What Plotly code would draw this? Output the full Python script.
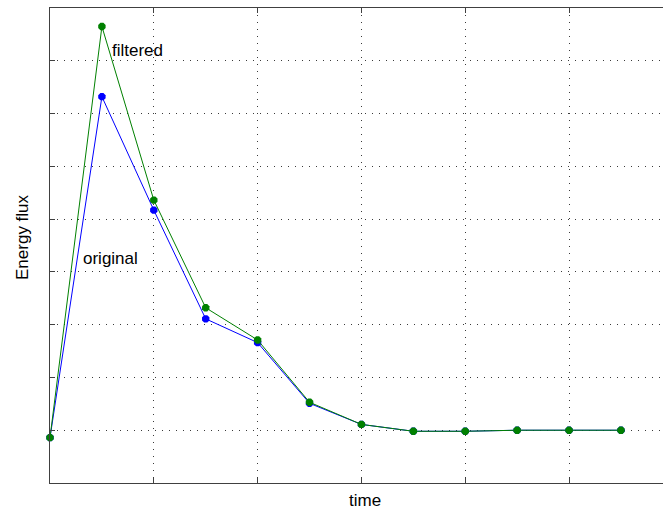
import plotly.graph_objects as go

time_idx = [0, 1, 2, 3, 4, 5, 6, 7, 8, 9, 10, 11]
original = [-0.14, 6.32, 4.17, 2.11, 1.66, 0.51, 0.11, -0.02, -0.02, 0.0, 0.0, 0.0]
filtered = [-0.14, 7.65, 4.36, 2.32, 1.71, 0.53, 0.11, -0.02, -0.02, 0.0, 0.0, 0.0]
x_ticks = [0, 2, 4, 6, 8, 10]
y_ticks = [-1, 0, 1, 2, 3, 4, 5, 6, 7, 8]

BLUE = "#0000ff"
GREEN = "#008000"
AX = "#404040"
GRID = "#3a3a3a"
FONT = "Liberation Sans, Arial, sans-serif"

fig = go.Figure()
fig.add_trace(go.Scatter(x=time_idx, y=original, mode="lines+markers",
                         line=dict(color=BLUE, width=1),
                         marker=dict(symbol="octagon", size=8, color=BLUE),
                         cliponaxis=False, showlegend=False))
fig.add_trace(go.Scatter(x=time_idx, y=filtered, mode="lines+markers",
                         line=dict(color=GREEN, width=1),
                         marker=dict(symbol="octagon", size=8, color=GREEN),
                         cliponaxis=False, showlegend=False))

fig.add_annotation(x=1.15, y=7.19, xref="x", yref="y", text="filtered",
                   showarrow=False, xanchor="left", yanchor="middle",
                   font=dict(family=FONT, size=17, color="#000"))
fig.add_annotation(x=0.60, y=3.26, xref="x", yref="y", text="original",
                   showarrow=False, xanchor="left", yanchor="middle",
                   font=dict(family=FONT, size=17, color="#000"))
fig.add_annotation(x=6.07, y=-0.036, xref="x", yref="paper", text="time",
                   showarrow=False, xanchor="center", yanchor="middle",
                   font=dict(family=FONT, size=17, color="#000"))
fig.add_annotation(x=-0.044, y=0.518, xref="paper", yref="paper", text="Energy flux",
                   showarrow=False, xanchor="center", yanchor="middle", textangle=-90,
                   font=dict(family=FONT, size=17, color="#000"))

fig.update_layout(
    width=663, height=511,
    margin=dict(l=50, r=0, t=8, b=28),
    paper_bgcolor="white", plot_bgcolor="white",
    xaxis=dict(range=[0, 11.81], tickvals=x_ticks, showticklabels=False,
               ticks="inside", ticklen=5, tickcolor=AX, tickwidth=1,
               showline=True, linecolor=AX, linewidth=1, mirror="ticks",
               showgrid=True, gridcolor=GRID, gridwidth=1, griddash="1px,6px",
               zeroline=False),
    yaxis=dict(range=[-1, 8], tickvals=y_ticks, showticklabels=False,
               ticks="inside", ticklen=5, tickcolor=AX, tickwidth=1,
               showline=True, linecolor=AX, linewidth=1, mirror=False,
               showgrid=True, gridcolor=GRID, gridwidth=1, griddash="1px,6px",
               zeroline=False),
)

fig.write_html("out.html")
